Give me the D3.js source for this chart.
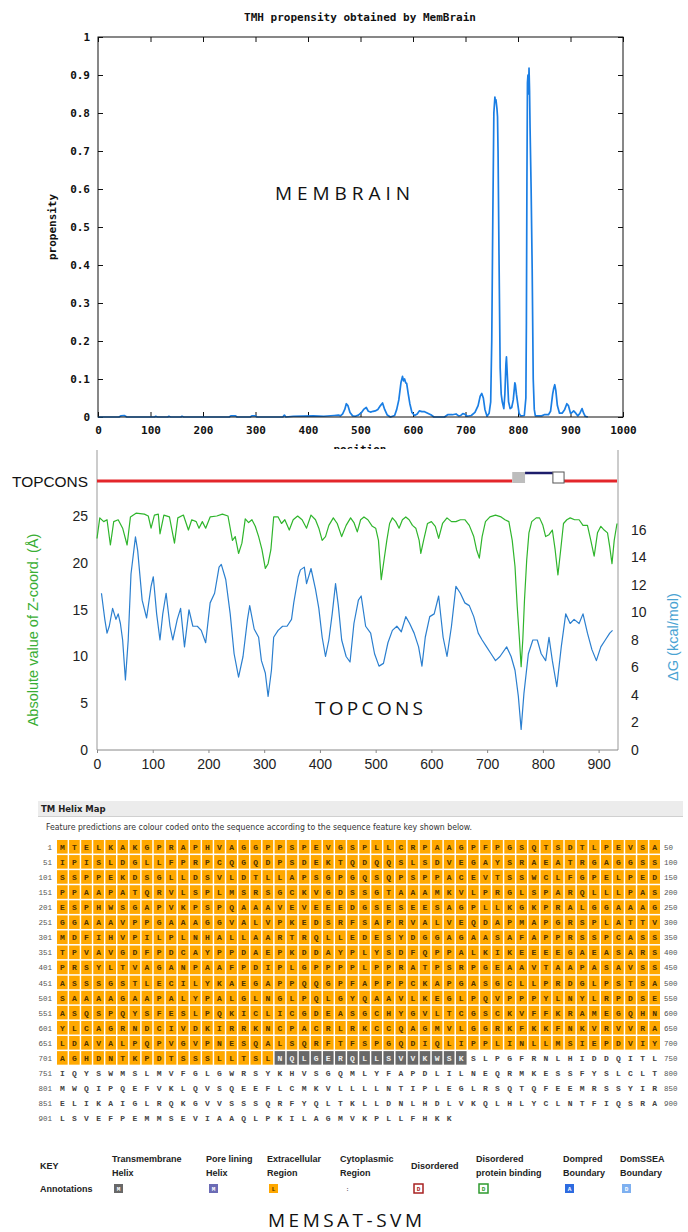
<!DOCTYPE html>
<html><head><meta charset="utf-8">
<script src="https://cdn.jsdelivr.net/npm/d3@7"></script>
<style>body{margin:0;background:#fff}svg{display:block}</style>
</head><body>
<script>
// ---------- MemBrain data ----------
const mbTitle = "TMH propensity obtained by MemBrain";
const mbXTicks = [0,100,200,300,400,500,600,700,800,900,1000];
const mbYTicks = [0,0.1,0.2,0.3,0.4,0.5,0.6,0.7,0.8,0.9,1];
const mbPos = [0,40,44,50,55,108,110,113,133,135,138,158,160,163,250,253,262,265,290,293,300,303,352,355,358,372,410,430,450,458,462,466,470,473,476,480,485,490,496,502,506,511,515,519,524,528,533,538,542,546,551,557,565,569,573,577,580,582,584,586,588,591,594,598,603,608,612,617,622,628,634,640,660,666,675,682,687,691,695,698,703,711,718,724,728,731,734,737,741,745,748,750,752,754,756,757,758,760,761,762,764,766,768,770,773,775,777,778,780,782,785,788,791,794,795,797,799,802,805,812,815,816,817,818,819,820,821,822,823,825,827,829,831,833,845,850,858,862,866,868,870,872,875,879,884,889,893,896,900,903,906,910,914,918,922,925,928,933];
const mbVal = [0,0,0.003,0.004,0,0,0.002,0,0,0.002,0,0,0.002,0,0,0.003,0.003,0,0,0.003,0.003,0,0,0.005,0,0.002,0.003,0.002,0.004,0.005,0.003,0.008,0.02,0.035,0.03,0.012,0.003,0.002,0.005,0.012,0.02,0.025,0.015,0.013,0.015,0.016,0.02,0.03,0.037,0.02,0.005,0,0.004,0.02,0.045,0.09,0.107,0.095,0.1,0.09,0.088,0.06,0.035,0.012,0.004,0.008,0.016,0.014,0.014,0.01,0.006,0,0,0.006,0.006,0.008,0.003,0.004,0.009,0.008,0.002,0.004,0.012,0.03,0.055,0.062,0.05,0.02,0.002,0.01,0.04,0.2,0.52,0.8,0.842,0.83,0.835,0.81,0.79,0.7,0.4,0.13,0.06,0.04,0.022,0.06,0.14,0.158,0.1,0.04,0.022,0.025,0.045,0.09,0.085,0.06,0.04,0.01,0.003,0.004,0.05,0.25,0.62,0.88,0.9,0.85,0.918,0.86,0.76,0.6,0.39,0.1,0.02,0.003,0.003,0.006,0.006,0.015,0.06,0.075,0.085,0.07,0.03,0.01,0.01,0.02,0.035,0.03,0.01,0.012,0.016,0.01,0.003,0.01,0.022,0.01,0.002,0];

// ---------- TOPCONS data ----------
const tcXTicks = [0,100,200,300,400,500,600,700,800,900];
const tcLeftTicks = [0,5,10,15,20,25];
const tcRightTicks = [0,2,4,6,8,10,12,14,16];
const topStarts = [0,745,768,818,838];
const topEnds   = [745,768,818,838,933];
const topTypes  = ["inside","tmInOut","outside","tmOutIn","inside"];
const zPos = [0,5,12,18,24,30,38,46,54,60,70,85,92,97,103,110,113,120,130,139,145,155,164,170,178,183,189,195,203,215,225,235,243,248,254,260,266,272,278,284,290,296,302,307,312,317,325,331,337,345,352,360,368,376,384,392,398,404,410,416,424,431,439,447,455,461,467,473,479,486,494,500,505,510,515,520,525,530,536,542,548,554,560,566,572,578,581,586,593,600,607,613,620,628,636,644,652,660,668,676,681,686,691,697,705,715,725,732,739,745,750,754,758,761,764,767,771,775,780,788,794,800,805,811,817,822,827,832,837,843,849,857,865,872,880,886,892,898,904,910,916,920,924,928,933];
const zVal = [22.6,24.8,24.4,24.6,21.9,24.4,24.6,23.7,21.9,24.9,25.3,25.2,25.0,23.7,25.1,25.2,23.1,25.1,24.9,22.1,24.8,25.1,23.5,24.6,24.4,23.7,24.4,23.7,24.9,25.0,25.2,25.0,22.4,22.8,21.0,22.1,24.7,24.3,24.6,23.9,22.8,21.4,19.4,19.9,21.4,24.9,24.9,24.2,24.6,23.5,24.6,25.0,24.6,23.7,25.1,24.6,23.7,22.4,22.8,24.0,24.8,24.2,22.8,24.0,24.8,24.3,23.3,24.6,24.9,24.6,23.9,23.7,22.4,18.2,20.3,22.4,24.2,24.8,24.4,23.7,24.6,24.9,24.6,24.0,23.7,22.4,21.0,22.4,24.2,24.4,23.9,22.6,24.2,24.8,24.4,24.4,24.6,24.6,24.0,22.8,21.4,20.5,22.8,24.4,24.9,25.1,24.9,24.6,24.4,22.4,19.6,15.3,11.8,8.9,11.8,16.0,20.3,23.2,24.4,24.8,24.8,24.0,22.8,23.0,23.5,21.4,18.7,21.4,24.2,24.6,24.8,24.6,24.6,24.0,24.0,22.4,20.7,23.2,23.9,23.5,23.2,21.7,19.9,22.4,24.2];
const gPos = [8,14,18,22,28,34,38,42,46,51,56,61,69,73,81,89,97,101,107,113,118,124,131,136,144,150,157,165,172,180,187,195,203,211,219,223,231,239,246,254,262,270,274,282,290,295,302,307,313,317,325,333,341,349,353,361,365,372,376,384,392,398,404,410,416,422,428,433,439,447,454,461,469,474,482,491,498,506,514,522,530,538,546,554,561,569,577,583,589,597,605,613,621,628,636,644,652,660,668,676,684,691,699,707,715,723,735,743,750,756,761,766,774,782,790,797,805,811,817,825,833,841,849,856,865,872,880,888,896,904,912,920,925];
const gVal = [11.4,9.5,8.5,9.0,10.3,9.5,9.9,9.2,8.0,5.1,8.0,12.8,15.5,14.5,10.9,9.6,11.9,12.6,9.9,8.0,9.9,11.4,9.0,8.0,9.5,10.3,7.5,10.2,9.0,9.0,8.7,7.8,10.7,11.4,13.3,13.5,12.4,9.9,7.0,5.3,6.8,9.5,10.5,8.8,8.2,6.5,5.6,3.9,5.8,8.2,8.7,9.0,9.0,9.5,10.7,12.6,13.1,13.3,12.1,13.2,11.7,10.3,8.2,6.8,8.0,9.9,12.1,10.5,8.0,6.8,6.4,9.2,10.9,11.2,9.0,8.5,7.0,6.1,6.3,7.8,8.7,9.0,8.6,9.7,9.2,8.5,7.5,6.1,8.2,9.7,9.9,11.2,8.2,6.8,9.0,11.9,11.4,10.7,10.5,9.7,8.5,8.0,7.5,7.0,6.5,6.8,7.5,6.8,5.8,3.9,1.5,4.1,7.0,8.0,8.0,7.0,6.5,8.2,6.5,4.6,7.5,9.9,9.2,9.5,9.2,9.9,8.5,7.3,6.5,7.5,8.0,8.5,8.7];

// ---------- MEMSAT-SVM data ----------
const seqRows = [
"MTELKAKGPRAPHVAGGPPSPEVGSPLLCRPAAGPFPGSQTSDTLPEVSA",
"IPISLDGLLFPRPCQGQDPSDEKTQDQQSLSDVEGAYSRAEATRGAGGSS",
"SSPPEKDSGLLDSVLDTLLAPSGPGQSQPSPPACEVTSSWCLFGPELPED",
"PPAAPATQRVLSPLMSRSGCKVGDSSGTAAAMKVLPRGLSPARQLLLPAS",
"ESPHWSGAPVKPSPQAAAVEVEEEDGSESEESAGPLLKGKPRALGGAAAG",
"GGAAAVPPGAAAGGVALVPKEDSRFSAPRVALVEQDAPMAPGRSPLATTV",
"MDFIHVPILPLNHALLAARTRQLLEDESYDGGAGAASAFAPPRSSPCASS",
"TPVAVGDFPDCAYPPDAEPKDDAYPLYSDFQPPALKIKEEEEGAEASARS",
"PRSYLTVAGANPAAFPDIPLGPPPPLPPRATPSRPGEAAVTAAPASAVSS",
"ASSSGSTLECILYKAEGAPPQQGPFAPPPCKAPGASGCLLPRDGLPSTSA",
"SAAAAGAAPALYPALGLNGLPQLGYQAAVLKEGLPQVPPPYLNYLRPDSE",
"ASQSPQYSFESLPQKICLICGDEASGCHYGVLTCGSCKVFFKRAMEGQHN",
"YLCAGRNDCIVDKIRRKNCPACRLRKCCQAGMVLGGRKFKKFNKVRVVRA",
"LDAVALPQPVGVPNESQALSQRFTFSPGQDIQLIPPLINLLMSIEPDVIY",
"AGHDNTKPDTSSSLLTSLNQLGERQLLSVVKWSKSLPGFRNLHIDDQITL",
"IQYSWMSLMVFGLGWRSYKHVSGQMLYFAPDLILNEQRMKESSFYSLCLT",
"MWQIPQEFVKLQVSQEEFLCMKVLLLLNTIPLEGLRSQTQFEEMRSSYIR",
"ELIKAIGLRQKGVVSSSQRFYQLTKLLDNLHDLVKQLHLYCLNTFIQSRA",
"LSVEFPEMMSEVIAAQLPKILAGMVKPLLFHKK"];
const regStarts = [1,719,735];
const regEnds   = [718,734,933];
const regTypes  = ["extracellular","tmhelix","cytoplasmic"];
const keyLines1 = ["Transmembrane","Pore lining","Extracellular","Cytoplasmic","Disordered","Disordered","Dompred","DomSSEA"];
const keyLines2 = ["Helix","Helix","Region","Region","","protein binding","Boundary","Boundary"];
const keyGlyphs = ["M","M","L",":","D","D","A","D"];

// ---------- drawing ----------
const W = 688, H = 1232;
const svg = d3.select("body").append("svg").attr("width", W).attr("height", H);
svg.append("rect").attr("width", W).attr("height", H).attr("fill", "#fff");
const mono = '"DejaVu Sans Mono","Liberation Mono",monospace';
const sans = '"Liberation Sans",Arial,sans-serif';
const bigFont = '19px "Open Sans",sans-serif';

// ===== MemBrain =====
const mx = d3.scaleLinear().domain([0,1000]).range([98,623]);
const my = d3.scaleLinear().domain([0,1]).range([417,37]);
svg.append("text").attr("x",360).attr("y",21).attr("text-anchor","middle")
  .style("font",`bold 11px ${mono}`).attr("fill","#111").text(mbTitle);
const g1 = svg.append("g");
const styleAxis = (sel, font) => { sel.select(".domain").remove(); sel.selectAll("text").style("font", font).attr("fill","#111"); sel.selectAll("line").attr("stroke","#111"); };
const fmtY = d => d===0 ? "0" : d===1 ? "1" : d.toFixed(1);
g1.append("g").attr("transform","translate(0,417)")
  .call(d3.axisBottom(mx).tickValues(mbXTicks).tickSize(-5).tickPadding(9).tickFormat(d3.format("d")))
  .call(s=>styleAxis(s,`bold 11px ${mono}`));
g1.append("g").attr("transform","translate(0,37)")
  .call(d3.axisTop(mx).tickValues(mbXTicks).tickSize(-5).tickFormat(""))
  .call(s=>styleAxis(s,""));
g1.append("g").attr("transform","translate(98,0)")
  .call(d3.axisLeft(my).tickValues(mbYTicks).tickSize(-5).tickPadding(8).tickFormat(fmtY))
  .call(s=>styleAxis(s,`bold 11px ${mono}`));
g1.append("g").attr("transform","translate(623,0)")
  .call(d3.axisRight(my).tickValues(mbYTicks).tickSize(-5).tickFormat(""))
  .call(s=>styleAxis(s,""));
g1.append("path").datum(d3.range(mbPos.length))
  .attr("d", d3.line().x(i=>mx(mbPos[i])).y(i=>my(mbVal[i])))
  .attr("fill","none").attr("stroke","#1a7ee4").attr("stroke-width",1.7).attr("stroke-linejoin","round");
g1.append("rect").attr("x",98).attr("y",37).attr("width",525).attr("height",380)
  .attr("fill","none").attr("stroke","#111").attr("stroke-width",1);
g1.append("text").attr("transform","translate(56,227) rotate(-90)").attr("text-anchor","middle")
  .style("font",`bold 11px ${mono}`).attr("fill","#111").text("propensity");
svg.append("clipPath").attr("id","cpos").append("rect").attr("x",0).attr("y",0).attr("width",W).attr("height",449);
g1.append("text").attr("x",360).attr("y",453).attr("text-anchor","middle").attr("clip-path","url(#cpos)")
  .style("font",`bold 11px ${mono}`).attr("fill","#111").text("position");
g1.append("text").attr("x",275).attr("y",200).attr("textLength",135).attr("lengthAdjust","spacing")
  .style("font",bigFont).attr("fill","#111").text("MEMBRAIN");

// ===== TOPCONS =====
const tx = d3.scaleLinear().domain([0,933]).range([97,617]);
const tyL = d3.scaleLinear().domain([0,25]).range([750,516]);
const tyR = d3.scaleLinear().domain([0,16]).range([750,530]);
const g2 = svg.append("g");
g2.append("line").attr("x1",97).attr("x2",97).attr("y1",450).attr("y2",750).attr("stroke","#999");
g2.append("line").attr("x1",618).attr("x2",618).attr("y1",450).attr("y2",750).attr("stroke","#999");
g2.append("line").attr("x1",97).attr("x2",618).attr("y1",750).attr("y2",750).attr("stroke","#888");
g2.append("text").attr("x",12).attr("y",487).attr("textLength",76).attr("lengthAdjust","spacingAndGlyphs")
  .style("font",`15px ${sans}`).attr("fill","#111").text("TOPCONS");
const topIdx = d3.range(topTypes.length);
g2.selectAll("line.inside").data(topIdx.filter(i=>topTypes[i]==="inside")).join("line")
  .attr("x1",i=>tx(topStarts[i])).attr("x2",i=>tx(topEnds[i])).attr("y1",481).attr("y2",481)
  .attr("stroke","#e3262b").attr("stroke-width",3);
g2.selectAll("line.outside").data(topIdx.filter(i=>topTypes[i]==="outside")).join("line")
  .attr("x1",i=>tx(topStarts[i])).attr("x2",i=>tx(topEnds[i])).attr("y1",473).attr("y2",473)
  .attr("stroke","#1d1d6b").attr("stroke-width",2.5);
g2.selectAll("rect.tm").data(topIdx.filter(i=>topTypes[i].startsWith("tm"))).join("rect")
  .attr("x",i=>tx(topStarts[i])).attr("width",i=>tx(topEnds[i])-tx(topStarts[i]))
  .attr("y",472).attr("height",11)
  .attr("fill",i=>topTypes[i]==="tmInOut" ? "#bdbdbd" : "#fff")
  .attr("stroke",i=>topTypes[i]==="tmInOut" ? "none" : "#555").attr("stroke-width",1);
g2.append("path").datum(d3.range(zPos.length))
  .attr("d", d3.line().x(i=>tx(zPos[i])).y(i=>tyL(zVal[i])))
  .attr("fill","none").attr("stroke","#2fb52c").attr("stroke-width",1.2).attr("stroke-linejoin","round");
g2.append("path").datum(d3.range(gPos.length))
  .attr("d", d3.line().x(i=>tx(gPos[i])).y(i=>tyR(gVal[i])))
  .attr("fill","none").attr("stroke","#2b7fcf").attr("stroke-width",1.2).attr("stroke-linejoin","round");
const styleAxis2 = s => { s.select(".domain").remove(); s.selectAll("text").style("font",`14px ${sans}`).attr("fill","#222"); s.selectAll("line").attr("stroke","#888"); };
g2.append("g").attr("transform","translate(0,750)")
  .call(d3.axisBottom(tx).tickValues(tcXTicks).tickSize(3).tickPadding(6).tickFormat(d3.format("d"))).call(styleAxis2);
g2.append("g").attr("transform","translate(97,0)")
  .call(d3.axisLeft(tyL).tickValues(tcLeftTicks).tickSize(0).tickPadding(9).tickFormat(d3.format("d"))).call(styleAxis2);
g2.append("g").attr("transform","translate(618,0)")
  .call(d3.axisRight(tyR).tickValues(tcRightTicks).tickSize(0).tickPadding(13).tickFormat(d3.format("d"))).call(styleAxis2);
g2.append("text").attr("transform","translate(38,630) rotate(-90)").attr("text-anchor","middle")
  .style("font",`14.5px ${sans}`).attr("fill","#3aae34").text("Absolute value of Z-coord. (Å)");
g2.append("text").attr("transform","translate(678,637) rotate(-90)").attr("text-anchor","middle")
  .style("font",`14.5px ${sans}`).attr("fill","#4aa3d3").text("ΔG (kcal/mol)");
g2.append("text").attr("x",315).attr("y",715).attr("textLength",108).attr("lengthAdjust","spacing")
  .style("font",bigFont).attr("fill","#111").text("TOPCONS");

// ===== MEMSAT-SVM =====
const g3 = svg.append("g");
const vsans = '"DejaVu Sans",Verdana,sans-serif';
g3.append("rect").attr("x",38).attr("y",801).attr("width",645).attr("height",15).attr("fill","#ececec");
g3.append("line").attr("x1",38).attr("x2",683).attr("y1",816.5).attr("y2",816.5).attr("stroke","#d0d0d0");
g3.append("text").attr("x",41).attr("y",812).style("font",`bold 8.5px ${vsans}`).attr("fill","#222").text("TM Helix Map");
g3.append("text").attr("x",46).attr("y",830).attr("textLength",426).attr("lengthAdjust","spacingAndGlyphs")
  .style("font",`8.5px ${vsans}`).attr("fill","#333")
  .text("Feature predictions are colour coded onto the sequence according to the sequence feature key shown below.");

const colX = d3.scaleBand().domain(d3.range(50)).range([57,660]).paddingInner(0.12);
const rowY = d3.scaleBand().domain(d3.range(seqRows.length)).range([840,840+15*seqRows.length]).paddingInner(0.1);
const regionOf = p => regTypes[regStarts.findIndex((s,k)=>p>=s && p<=regEnds[k])];
const cells = [];
seqRows.forEach((row,r)=>{ for(let c=0;c<row.length;c++){ cells.push({r,c,aa:row[c],pos:r*50+c+1}); } });
const fillOf = {extracellular:"#ffa800", tmhelix:"#686868", cytoplasmic:"none"};
const textOf = {extracellular:"#4d3200", tmhelix:"#f2f2f2", cytoplasmic:"#444"};
g3.selectAll("rect.cell").data(cells.filter(d=>regionOf(d.pos)!=="cytoplasmic")).join("rect")
  .attr("x",d=>colX(d.c)).attr("y",d=>rowY(d.r)).attr("width",colX.bandwidth()).attr("height",rowY.bandwidth())
  .attr("fill",d=>fillOf[regionOf(d.pos)]);
g3.selectAll("text.aa").data(cells).join("text")
  .attr("x",d=>colX(d.c)+colX.bandwidth()/2).attr("y",d=>rowY(d.r)+rowY.bandwidth()/2+3)
  .attr("text-anchor","middle").style("font",`bold 8px "Liberation Mono","Courier New",monospace`)
  .attr("fill",d=>textOf[regionOf(d.pos)]).text(d=>d.aa);
g3.selectAll("text.rs").data(seqRows).join("text")
  .attr("x",52).attr("y",(d,r)=>rowY(r)+rowY.bandwidth()/2+3).attr("text-anchor","end")
  .style("font",`7.5px "Liberation Mono",monospace`).attr("fill","#555").text((d,r)=>r*50+1);
g3.selectAll("text.re").data(seqRows.filter(s=>s.length===50)).join("text")
  .attr("x",664).attr("y",(d,r)=>rowY(r)+rowY.bandwidth()/2+3)
  .style("font",`7.5px "Liberation Mono",monospace`).attr("fill","#555").text((d,r)=>r*50+50);

// key
const keyX = d3.scaleOrdinal().domain(d3.range(8)).range([112,206,267,340,411,476,563,620]);
const kfont = `bold 9px ${sans}`;
g3.append("text").attr("x",40).attr("y",1169).style("font",kfont).attr("fill","#222").text("KEY");
g3.append("text").attr("x",40).attr("y",1192).style("font",kfont).attr("fill","#222").text("Annotations");
g3.selectAll("text.k1").data(d3.range(8)).join("text")
  .attr("x",i=>keyX(i)).attr("y",i=>keyLines2[i]==="" ? 1169 : 1162)
  .style("font",kfont).attr("fill","#222").text(i=>keyLines1[i]);
g3.selectAll("text.k2").data(d3.range(8)).join("text")
  .attr("x",i=>keyX(i)).attr("y",1176).style("font",kfont).attr("fill","#222").text(i=>keyLines2[i]);
const swFill = ["#686868","#6b6bb5","#ffa800","none","#fff","#fff","#2d6be0","#7eb0f0"];
const swStroke = ["none","none","none","none","#a82222","#2e9a2e","none","none"];
const swText = ["#fff","#fff","#4d3200","#333","#a82222","#2e9a2e","#fff","#fff"];
const swOff = [2,3,2,3,3,3,2,2];
g3.selectAll("rect.sw").data(d3.range(8).filter(i=>swFill[i]!=="none")).join("rect")
  .attr("x",i=>keyX(i)+swOff[i]).attr("y",1184).attr("width",9).attr("height",9)
  .attr("fill",i=>swFill[i]).attr("stroke",i=>swStroke[i]).attr("stroke-width",1.5);
g3.selectAll("text.sw").data(d3.range(8)).join("text")
  .attr("x",i=>keyX(i)+swOff[i]+4.5).attr("y",1191).attr("text-anchor","middle")
  .style("font",`bold 6px "Liberation Mono",monospace`).attr("fill",i=>swText[i]).text(i=>keyGlyphs[i]);
g3.append("text").attr("x",268).attr("y",1227).attr("textLength",154).attr("lengthAdjust","spacing")
  .style("font",bigFont).attr("fill","#111").text("MEMSAT-SVM");
</script>
</body></html>
